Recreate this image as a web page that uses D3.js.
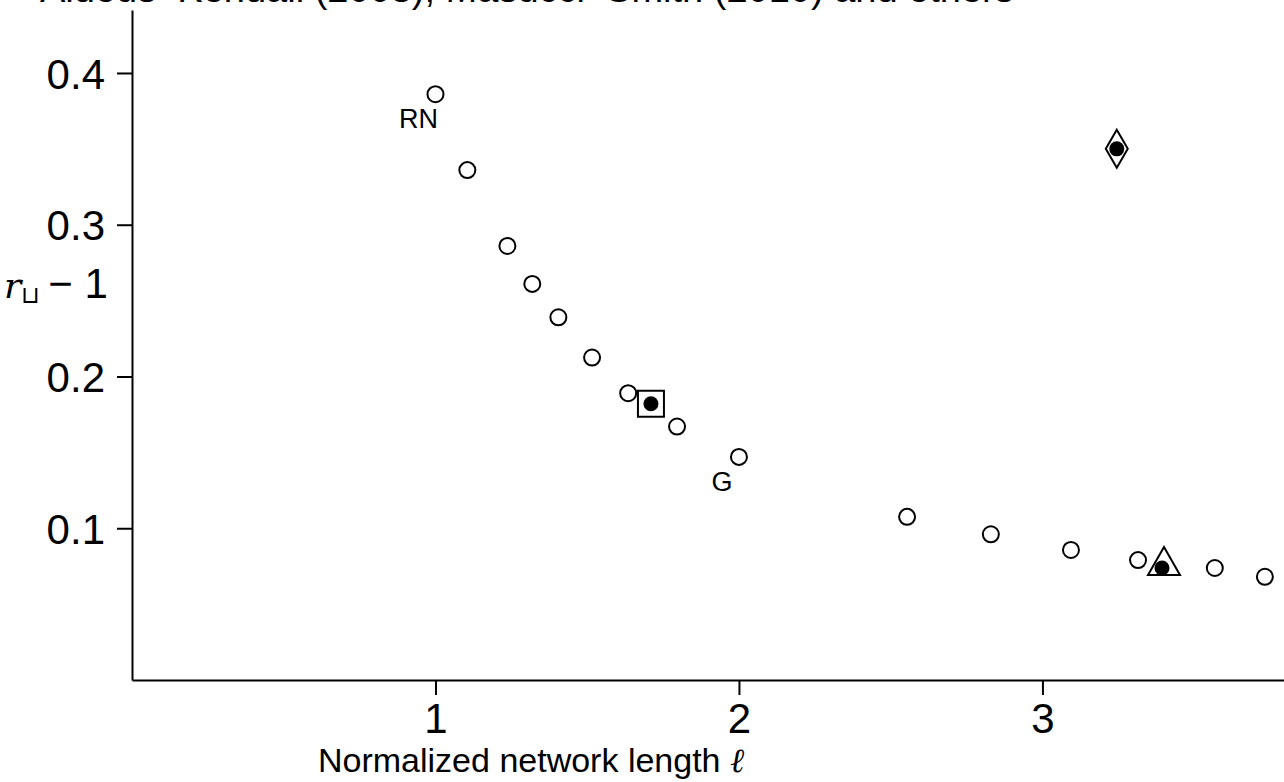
<!DOCTYPE html>
<html>
<head>
<meta charset="utf-8">
<script src="https://cdn.jsdelivr.net/npm/d3@7"></script>
<style>
  body { margin: 0; background: #fff; }
  svg { display: block; font-family: "Liberation Sans", sans-serif; }
</style>
</head>
<body>
<script>
// network length vs excess route-length statistic
const netLength = [1.0, 1.105, 1.237, 1.319, 1.405, 1.516, 1.635, 1.796, 2.0, 2.554, 2.83, 3.094, 3.315, 3.568, 3.733];
const routeExcess = [0.386, 0.336, 0.286, 0.261, 0.239, 0.2125, 0.189, 0.167, 0.147, 0.1075, 0.096, 0.0857, 0.079, 0.0738, 0.068];
const pointLabels = ["RN", "", "", "", "", "", "", "", "G", "", "", "", "", "", ""];

// highlighted networks: shape drawn round a filled dot
const specialX = [1.71, 3.245, 3.394];
const specialY = [0.182, 0.35, 0.0738];
const specialShape = ["square", "diamond", "triangle"];

const xTicks = [1, 2, 3];
const yTicks = [0.1, 0.2, 0.3, 0.4];

const width = 1284, height = 782;
const margin = {left: 132, top: 10, right: 0, bottom: 102};

const svg = d3.select("body").append("svg")
    .attr("width", width)
    .attr("height", height);

const x = d3.scaleLinear().domain([0, 3.796]).range([margin.left, width - margin.right]);
const y = d3.scaleLinear().domain([0, 0.4415]).range([height - margin.bottom, margin.top]);

// title sits above the page edge, only its bottom shows
svg.append("text")
    .attr("x", 40)
    .attr("y", 2)
    .style("font-size", "38px")
    .text("Aldous–Kendall (2008), Masucci–Smith (2010) and others");

// axes
const xAxis = svg.append("g")
    .attr("transform", "translate(0," + y(0) + ")")
    .call(d3.axisBottom(x).tickValues(xTicks).tickFormat(d3.format("d")).tickSize(15).tickPadding(8).tickSizeOuter(0));
const yAxis = svg.append("g")
    .attr("transform", "translate(" + x(0) + ",0)")
    .call(d3.axisLeft(y).tickValues(yTicks).tickFormat(d3.format(".1f")).tickSize(15).tickPadding(12).tickSizeOuter(0));

[xAxis, yAxis].forEach(function(a) {
    a.select(".domain").attr("stroke", "#000").attr("stroke-width", 2);
    a.selectAll(".tick line").attr("stroke", "#000").attr("stroke-width", 2);
    a.selectAll(".tick text")
        .attr("fill", "#000")
        .style("font-family", "Liberation Sans, sans-serif")
        .style("font-size", "42px");
});
yAxis.selectAll(".tick text").attr("dy", "0.36em");

// axis titles
const xl = svg.append("text")
    .attr("x", 318)
    .attr("y", 772)
    .style("font-size", "34px");
xl.append("tspan").text("Normalized network length ");
xl.append("tspan")
    .style("font-family", "DejaVu Serif, serif")
    .style("font-style", "italic")
    .style("font-size", "34px")
    .text("ℓ");

const yl = svg.append("text")
    .attr("x", 4)
    .attr("y", 298)
    .style("font-size", "42px");
yl.append("tspan").style("font-family", "DejaVu Serif, serif").style("font-style", "italic").style("font-size", "36px").text("r");
yl.append("tspan").attr("dy", 5).style("font-size", "24px").text("⊔");
yl.append("tspan").attr("dy", -5).attr("dx", 8).text("− 1");

// open circles
svg.selectAll("circle.pt")
    .data(netLength)
    .enter().append("circle")
    .attr("class", "pt")
    .attr("cx", (d) => x(d))
    .attr("cy", (d, i) => y(routeExcess[i]))
    .attr("r", 8)
    .attr("fill", "none")
    .attr("stroke", "#000")
    .attr("stroke-width", 2);

svg.selectAll("text.lbl")
    .data(pointLabels)
    .enter().append("text")
    .attr("class", "lbl")
    .attr("x", (d, i) => x(netLength[i]) - 17)
    .attr("y", (d, i) => y(routeExcess[i]) + 34)
    .attr("text-anchor", "middle")
    .style("font-size", "27px")
    .text((d) => d);

// highlighted networks
const shapes = {
    square: "M-13,-13 L13,-13 L13,13 L-13,13 Z",
    diamond: "M0,-19 L11,0 L0,19 L-11,0 Z",
    triangle: "M2,-21 L18,7 L-14,7 Z"
};
const sp = svg.selectAll("g.special")
    .data(specialX)
    .enter().append("g")
    .attr("class", "special")
    .attr("transform", (d, i) => "translate(" + x(d) + "," + y(specialY[i]) + ")");
sp.append("path")
    .attr("d", (d, i) => shapes[specialShape[i]])
    .attr("fill", "none")
    .attr("stroke", "#000")
    .attr("stroke-width", 2);
sp.append("circle")
    .attr("r", 7.5)
    .attr("fill", "#000");
</script>
</body>
</html>
